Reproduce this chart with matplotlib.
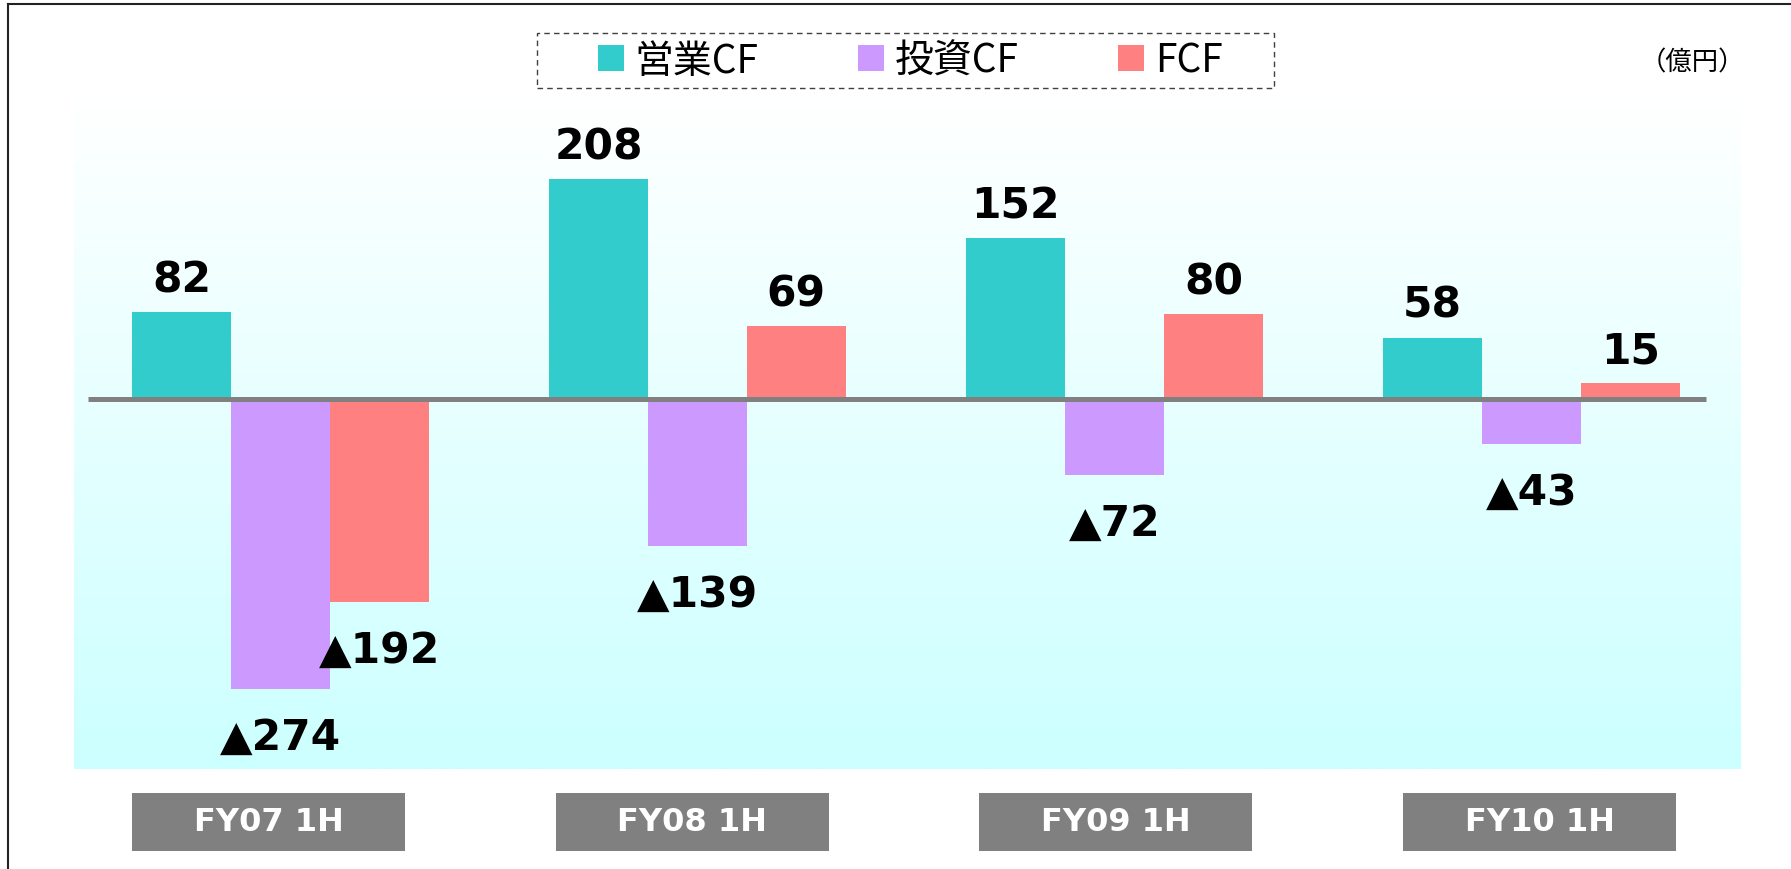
import numpy as np
import matplotlib
matplotlib.use('Agg')
import matplotlib.pyplot as plt
from matplotlib.colors import LinearSegmentedColormap
from matplotlib.patches import Rectangle
from matplotlib.lines import Line2D

# ─── Data (億円) ──────────────────────────────────────────────────────
periods = ['FY07 1H', 'FY08 1H', 'FY09 1H', 'FY10 1H']
series_names = ['営業CF', '投資CF', 'FCF']
operating_cf = [82, 208, 152, 58]
investing_cf = [-274, -139, -72, -43]
free_cf = [-192, 69, 80, 15]
unit_label = '（億円）'

colors = ['#33cccc', '#cc99ff', '#ff8080']
W, H = 1791, 870
CJK = ['Noto Sans CJK JP', 'DejaVu Sans']

fig = plt.figure(figsize=(W / 100, H / 100), dpi=100)
fig.patch.set_facecolor('white')

# plot area (pixel layout -> figure fraction)
ax = fig.add_axes([74 / W, 1 - 770 / H, 1667 / W, 673 / H])
xlim = (-0.495, 3.5025)
ylim = (-350, 286.5)

# white -> light cyan vertical gradient background
grad = np.linspace(0, 1, 256).reshape(-1, 1)
cmap = LinearSegmentedColormap.from_list('bg', ['#ffffff', '#ccffff'])
ax.imshow(grad, cmap=cmap, aspect='auto', extent=(*xlim, *ylim),
          origin='upper', zorder=0)

x = np.arange(len(periods))
bw = 0.2374
bars = []
for i, (name, vals) in enumerate(zip(series_names, [operating_cf, investing_cf, free_cf])):
    pos = x + (i - 1) * bw
    b = ax.bar(pos, vals, width=bw, color=colors[i], label=name, zorder=2, linewidth=0)
    bars.append(b)
    for xp, v in zip(pos, vals):
        if v >= 0:
            ax.annotate(str(v), (xp, v), xytext=(0, 15), textcoords='offset points',
                        ha='center', va='baseline', fontsize=30.5, weight='bold',
                        family='DejaVu Sans', color='black', zorder=4)
        else:
            ax.annotate('▲' + str(abs(v)), (xp, v), xytext=(0, -43), textcoords='offset points',
                        ha='center', va='baseline', fontsize=30.5, weight='bold',
                        family='DejaVu Sans', color='black', zorder=4)

# zero line
ax.hlines(0, -0.4616, 3.4185, color='#808080', linewidth=3.6, zorder=3)

ax.set_xlim(*xlim)
ax.set_ylim(*ylim)
ax.axis('off')

# category boxes under the plot
box_w, box_h = 273, 58
for k, label in enumerate(periods):
    cx = 268.5 + k * 423.7
    fig.patches.append(Rectangle(((cx - box_w / 2) / W, 1 - 852 / H), box_w / W, box_h / H,
                                 transform=fig.transFigure, facecolor='#808080',
                                 edgecolor='none', zorder=1))
    fig.text(cx / W, 1 - 823 / H, label, ha='center', va='center', color='white',
             fontsize=23, weight='bold', family='DejaVu Sans', zorder=2)

# legend with dashed frame
fig.patches.append(Rectangle((537 / W, 1 - 89 / H), 737 / W, 55 / H,
                             transform=fig.transFigure, facecolor='white',
                             edgecolor='#404040', linestyle=(0, (4, 3)), linewidth=1.0, zorder=1))
fig.legend(handles=bars, labels=series_names, loc='center',
           bbox_to_anchor=(910 / W, 1 - 61.5 / H), bbox_transform=fig.transFigure,
           ncol=3, frameon=False, prop={'family': CJK, 'size': 28},
           handlelength=0.67, handleheight=0.64, handletextpad=0.28,
           columnspacing=2.55, borderpad=0, borderaxespad=0)

fig.text(1692 / W, 1 - 63 / H, unit_label, ha='center', va='center',
         fontsize=19, family=CJK, color='black')

# outer frame lines (left and top)
fig.lines.append(Line2D([8 / W, 8 / W], [0, 1 - 4.5 / H], transform=fig.transFigure,
                        color='#222222', linewidth=1.5))
fig.lines.append(Line2D([8 / W, 1], [1 - 4.5 / H, 1 - 4.5 / H], transform=fig.transFigure,
                        color='#222222', linewidth=1.5))

fig.savefig('out.png', dpi=100, facecolor='white')
